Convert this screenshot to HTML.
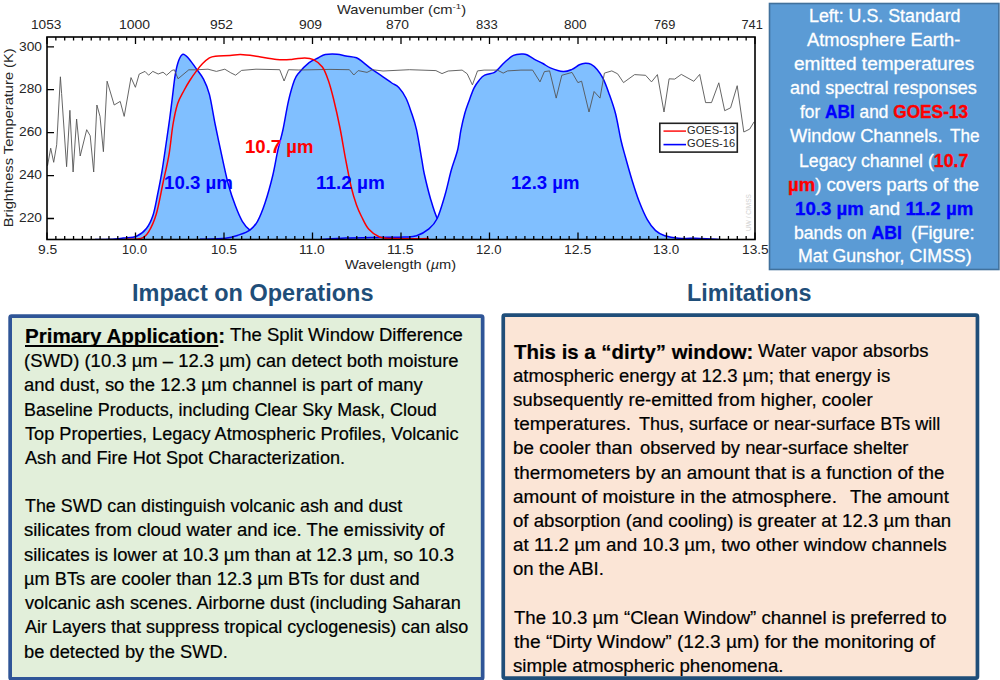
<!DOCTYPE html><html><head><meta charset="utf-8"><style>html,body{margin:0;padding:0;background:#fff;}body{width:1000px;height:680px;position:relative;overflow:hidden;font-family:"Liberation Sans", sans-serif;}.t{position:absolute;white-space:pre;transform-origin:0 0;}.k{-webkit-text-stroke:0.2px #000;}.w{-webkit-text-stroke:0.3px #fff;}.w b{-webkit-text-stroke:0.3px currentColor;}.box{position:absolute;box-sizing:border-box;}</style></head><body><svg width="1000" height="280" style="position:absolute;left:0;top:0"><defs><clipPath id="pc"><rect x="47.0" y="37.0" width="708.0" height="202.5"/></clipPath></defs><g clip-path="url(#pc)"><path d="M95.00,239.60C97.50,239.55 105.30,239.57 110.00,239.30C114.70,239.03 118.78,238.52 123.20,238.00C127.62,237.48 132.63,237.78 136.50,236.20C140.37,234.62 143.65,232.00 146.40,228.50C149.15,225.00 151.15,220.78 153.00,215.20C154.85,209.62 156.03,202.13 157.50,195.00C158.97,187.87 160.35,181.07 161.80,172.40C163.25,163.73 164.92,151.73 166.20,143.00C167.48,134.27 168.48,127.50 169.50,120.00C170.52,112.50 171.33,105.60 172.30,98.00C173.27,90.40 174.22,80.68 175.30,74.40C176.38,68.12 177.53,63.67 178.80,60.30C180.07,56.93 181.33,54.60 182.90,54.20C184.47,53.80 186.13,55.70 188.20,57.90C190.27,60.10 192.75,63.87 195.30,67.40C197.85,70.93 201.15,74.60 203.50,79.10C205.85,83.60 207.43,86.75 209.40,94.40C211.37,102.05 213.07,114.00 215.30,125.00C217.53,136.00 220.57,150.27 222.80,160.40C225.03,170.53 226.58,178.18 228.70,185.80C230.82,193.42 233.23,200.18 235.50,206.10C237.77,212.02 239.90,217.30 242.30,221.30C244.70,225.30 246.62,227.57 249.90,230.10C253.18,232.63 256.98,235.05 262.00,236.50C267.02,237.95 273.67,238.30 280.00,238.80C286.33,239.30 296.67,239.38 300.00,239.50Z" fill="#80BFFF" stroke="none"/><path d="M95.00,239.60C97.50,239.55 105.30,239.57 110.00,239.30C114.70,239.03 118.78,238.52 123.20,238.00C127.62,237.48 132.63,237.78 136.50,236.20C140.37,234.62 143.65,232.00 146.40,228.50C149.15,225.00 151.15,220.78 153.00,215.20C154.85,209.62 156.03,202.13 157.50,195.00C158.97,187.87 160.35,181.07 161.80,172.40C163.25,163.73 164.92,151.73 166.20,143.00C167.48,134.27 168.48,127.50 169.50,120.00C170.52,112.50 171.33,105.60 172.30,98.00C173.27,90.40 174.22,80.68 175.30,74.40C176.38,68.12 177.53,63.67 178.80,60.30C180.07,56.93 181.33,54.60 182.90,54.20C184.47,53.80 186.13,55.70 188.20,57.90C190.27,60.10 192.75,63.87 195.30,67.40C197.85,70.93 201.15,74.60 203.50,79.10C205.85,83.60 207.43,86.75 209.40,94.40C211.37,102.05 213.07,114.00 215.30,125.00C217.53,136.00 220.57,150.27 222.80,160.40C225.03,170.53 226.58,178.18 228.70,185.80C230.82,193.42 233.23,200.18 235.50,206.10C237.77,212.02 239.90,217.30 242.30,221.30C244.70,225.30 246.62,227.57 249.90,230.10C253.18,232.63 256.98,235.05 262.00,236.50C267.02,237.95 273.67,238.30 280.00,238.80C286.33,239.30 296.67,239.38 300.00,239.50" fill="none" stroke="#0000FF" stroke-width="1.5" stroke-linejoin="round"/><path d="M200.00,239.30C204.23,239.12 218.92,238.93 225.40,238.20C231.88,237.47 234.82,236.25 238.90,234.90C242.98,233.55 246.80,232.37 249.90,230.10C253.00,227.83 254.97,225.87 257.50,221.30C260.03,216.73 262.57,210.30 265.10,202.70C267.63,195.10 270.58,184.43 272.70,175.70C274.82,166.97 276.10,157.92 277.80,150.30C279.50,142.68 281.12,138.23 282.90,130.00C284.68,121.77 286.58,109.18 288.50,100.90C290.42,92.62 292.68,84.95 294.40,80.30C296.12,75.65 296.35,75.95 298.80,73.00C301.25,70.05 305.90,65.10 309.10,62.60C312.30,60.10 315.30,59.33 318.00,58.00C320.70,56.67 322.13,55.23 325.30,54.60C328.47,53.97 333.57,53.98 337.00,54.20C340.43,54.42 342.65,55.32 345.90,55.90C349.15,56.48 353.57,56.58 356.50,57.70C359.43,58.82 360.85,60.60 363.50,62.60C366.15,64.60 369.15,67.33 372.40,69.70C375.65,72.07 379.77,74.58 383.00,76.80C386.23,79.02 389.17,81.23 391.80,83.00C394.43,84.77 396.45,84.90 398.80,87.40C401.15,89.90 403.83,93.90 405.90,98.00C407.97,102.10 409.43,106.72 411.20,112.00C412.97,117.28 414.73,121.75 416.50,129.70C418.27,137.65 420.50,152.32 421.80,159.70C423.10,167.08 422.85,167.50 424.30,174.00C425.75,180.50 428.32,191.23 430.50,198.70C432.68,206.17 434.65,213.25 437.40,218.80C440.15,224.35 442.40,228.83 447.00,232.00C451.60,235.17 457.83,236.58 465.00,237.80C472.17,239.02 482.50,239.02 490.00,239.30C497.50,239.58 506.67,239.47 510.00,239.50Z" fill="#80BFFF" stroke="none"/><path d="M200.00,239.30C204.23,239.12 218.92,238.93 225.40,238.20C231.88,237.47 234.82,236.25 238.90,234.90C242.98,233.55 246.80,232.37 249.90,230.10C253.00,227.83 254.97,225.87 257.50,221.30C260.03,216.73 262.57,210.30 265.10,202.70C267.63,195.10 270.58,184.43 272.70,175.70C274.82,166.97 276.10,157.92 277.80,150.30C279.50,142.68 281.12,138.23 282.90,130.00C284.68,121.77 286.58,109.18 288.50,100.90C290.42,92.62 292.68,84.95 294.40,80.30C296.12,75.65 296.35,75.95 298.80,73.00C301.25,70.05 305.90,65.10 309.10,62.60C312.30,60.10 315.30,59.33 318.00,58.00C320.70,56.67 322.13,55.23 325.30,54.60C328.47,53.97 333.57,53.98 337.00,54.20C340.43,54.42 342.65,55.32 345.90,55.90C349.15,56.48 353.57,56.58 356.50,57.70C359.43,58.82 360.85,60.60 363.50,62.60C366.15,64.60 369.15,67.33 372.40,69.70C375.65,72.07 379.77,74.58 383.00,76.80C386.23,79.02 389.17,81.23 391.80,83.00C394.43,84.77 396.45,84.90 398.80,87.40C401.15,89.90 403.83,93.90 405.90,98.00C407.97,102.10 409.43,106.72 411.20,112.00C412.97,117.28 414.73,121.75 416.50,129.70C418.27,137.65 420.50,152.32 421.80,159.70C423.10,167.08 422.85,167.50 424.30,174.00C425.75,180.50 428.32,191.23 430.50,198.70C432.68,206.17 434.65,213.25 437.40,218.80C440.15,224.35 442.40,228.83 447.00,232.00C451.60,235.17 457.83,236.58 465.00,237.80C472.17,239.02 482.50,239.02 490.00,239.30C497.50,239.58 506.67,239.47 510.00,239.50" fill="none" stroke="#0000FF" stroke-width="1.5" stroke-linejoin="round"/><path d="M320.00,239.50C324.25,239.27 336.10,238.45 345.50,238.10C354.90,237.75 366.62,237.58 376.40,237.40C386.18,237.22 397.50,237.27 404.20,237.00C410.90,236.73 412.48,237.15 416.60,235.80C420.72,234.45 425.47,231.78 428.90,228.90C432.33,226.02 434.52,224.15 437.20,218.50C439.88,212.85 442.65,203.08 445.00,195.00C447.35,186.92 449.20,177.50 451.30,170.00C453.40,162.50 456.00,156.63 457.60,150.00C459.20,143.37 459.68,136.37 460.90,130.20C462.12,124.03 463.47,118.08 464.90,113.00C466.33,107.92 467.97,103.90 469.50,99.70C471.03,95.50 472.45,91.10 474.10,87.80C475.75,84.50 477.63,82.00 479.40,79.90C481.17,77.80 482.27,76.42 484.70,75.20C487.13,73.98 491.78,73.58 494.00,72.60C496.22,71.62 496.17,71.07 498.00,69.30C499.83,67.53 502.42,64.32 505.00,62.00C507.58,59.68 510.60,56.73 513.50,55.40C516.40,54.07 520.18,54.12 522.40,54.00C524.62,53.88 524.85,53.85 526.80,54.70C528.75,55.55 531.42,57.63 534.10,59.10C536.78,60.57 540.20,62.03 542.90,63.50C545.60,64.97 546.92,66.55 550.30,67.90C553.68,69.25 559.58,71.35 563.20,71.60C566.82,71.85 569.30,70.55 572.00,69.40C574.70,68.25 577.18,65.73 579.40,64.70C581.62,63.67 583.33,63.27 585.30,63.20C587.27,63.13 589.23,63.27 591.20,64.30C593.17,65.33 595.15,67.08 597.10,69.40C599.05,71.72 600.95,74.28 602.90,78.20C604.85,82.12 606.70,87.02 608.80,92.90C610.90,98.78 613.48,105.65 615.50,113.50C617.52,121.35 619.25,132.75 620.90,140.00C622.55,147.25 623.52,150.22 625.40,157.00C627.28,163.78 629.93,173.37 632.20,180.70C634.47,188.03 636.48,194.52 639.00,201.00C641.52,207.48 644.53,214.67 647.30,219.60C650.07,224.53 652.68,227.92 655.60,230.60C658.52,233.28 661.00,234.43 664.80,235.70C668.60,236.97 672.53,237.75 678.40,238.20C684.27,238.65 693.07,238.18 700.00,238.40C706.93,238.62 716.67,239.32 720.00,239.50Z" fill="#80BFFF" stroke="none"/><path d="M320.00,239.50C324.25,239.27 336.10,238.45 345.50,238.10C354.90,237.75 366.62,237.58 376.40,237.40C386.18,237.22 397.50,237.27 404.20,237.00C410.90,236.73 412.48,237.15 416.60,235.80C420.72,234.45 425.47,231.78 428.90,228.90C432.33,226.02 434.52,224.15 437.20,218.50C439.88,212.85 442.65,203.08 445.00,195.00C447.35,186.92 449.20,177.50 451.30,170.00C453.40,162.50 456.00,156.63 457.60,150.00C459.20,143.37 459.68,136.37 460.90,130.20C462.12,124.03 463.47,118.08 464.90,113.00C466.33,107.92 467.97,103.90 469.50,99.70C471.03,95.50 472.45,91.10 474.10,87.80C475.75,84.50 477.63,82.00 479.40,79.90C481.17,77.80 482.27,76.42 484.70,75.20C487.13,73.98 491.78,73.58 494.00,72.60C496.22,71.62 496.17,71.07 498.00,69.30C499.83,67.53 502.42,64.32 505.00,62.00C507.58,59.68 510.60,56.73 513.50,55.40C516.40,54.07 520.18,54.12 522.40,54.00C524.62,53.88 524.85,53.85 526.80,54.70C528.75,55.55 531.42,57.63 534.10,59.10C536.78,60.57 540.20,62.03 542.90,63.50C545.60,64.97 546.92,66.55 550.30,67.90C553.68,69.25 559.58,71.35 563.20,71.60C566.82,71.85 569.30,70.55 572.00,69.40C574.70,68.25 577.18,65.73 579.40,64.70C581.62,63.67 583.33,63.27 585.30,63.20C587.27,63.13 589.23,63.27 591.20,64.30C593.17,65.33 595.15,67.08 597.10,69.40C599.05,71.72 600.95,74.28 602.90,78.20C604.85,82.12 606.70,87.02 608.80,92.90C610.90,98.78 613.48,105.65 615.50,113.50C617.52,121.35 619.25,132.75 620.90,140.00C622.55,147.25 623.52,150.22 625.40,157.00C627.28,163.78 629.93,173.37 632.20,180.70C634.47,188.03 636.48,194.52 639.00,201.00C641.52,207.48 644.53,214.67 647.30,219.60C650.07,224.53 652.68,227.92 655.60,230.60C658.52,233.28 661.00,234.43 664.80,235.70C668.60,236.97 672.53,237.75 678.40,238.20C684.27,238.65 693.07,238.18 700.00,238.40C706.93,238.62 716.67,239.32 720.00,239.50" fill="none" stroke="#0000FF" stroke-width="1.5" stroke-linejoin="round"/><polyline points="47.5,165.8 50.7,148.2 53.7,162.3 56.7,144.7 60.4,76.8 61.6,93.5 66.6,166.7 69.9,110.3 73.1,172.0 76.6,119.0 80.2,156.0 86.7,129.7 90.2,135.8 93.7,172.0 96.9,105.0 100.0,116.4 103.4,151.7 107.1,81.2 114.2,105.0 120.2,101.4 124.2,116.4 131.0,77.6 135.4,87.3 139.2,74.1 145.0,71.4 148.6,75.2 152.8,71.4 158.2,74.0 163.0,72.2 166.6,75.2 172.0,70.4 174.4,69.8 178.0,78.8 188.8,69.8 196.0,69.8 208.0,69.2 216.4,71.4 224.8,69.2 230.8,72.8 235.6,75.2 241.6,70.4 256.0,69.2 279.7,69.7 284.1,81.0 288.5,69.7 298.8,70.0 330.0,69.4 349.4,69.7 353.8,75.0 358.2,70.6 367.0,72.4 372.4,69.7 383.0,71.0 409.4,69.7 435.9,70.6 442.0,73.6 448.2,71.0 462.1,70.1 467.2,73.8 472.4,84.9 477.5,70.9 484.1,70.1 497.4,70.1 503.2,73.1 507.6,70.9 520.9,70.1 532.6,70.1 540.0,81.9 544.4,71.6 549.6,70.9 556.2,98.1 561.8,75.3 572.0,72.4 577.9,82.6 581.6,81.2 589.0,112.0 594.1,91.5 600.0,98.1 604.4,73.1 611.8,70.9 617.6,73.8 623.5,82.6 634.6,74.6 645.6,75.3 651.5,81.9 657.4,74.6 664.0,112.0 669.1,78.8 674.7,79.1 681.3,74.4 693.8,81.3 699.7,74.4 705.6,102.6 711.5,102.6 718.8,82.8 724.7,110.7 730.6,107.8 737.2,85.7 743.8,132.0 749.7,129.1 754.1,121.8" fill="none" stroke="#555" stroke-width="0.9" stroke-linejoin="miter"/><path d="M125.00,239.30C127.65,239.15 136.97,239.65 140.90,238.40C144.83,237.15 146.03,235.87 148.60,231.80C151.17,227.73 153.90,222.13 156.30,214.00C158.70,205.87 160.88,192.90 163.00,183.00C165.12,173.10 167.35,164.27 169.00,154.60C170.65,144.93 171.47,133.47 172.90,125.00C174.33,116.53 175.75,109.55 177.60,103.80C179.45,98.05 181.97,94.38 184.00,90.50C186.03,86.62 187.72,83.77 189.80,80.50C191.88,77.23 194.40,73.68 196.50,70.90C198.60,68.12 200.25,65.97 202.40,63.80C204.55,61.63 207.25,59.17 209.40,57.90C211.55,56.63 211.87,56.58 215.30,56.20C218.73,55.82 225.82,55.87 230.00,55.60C234.18,55.33 236.28,54.53 240.40,54.60C244.52,54.67 248.63,55.20 254.70,56.00C260.77,56.80 270.67,58.83 276.80,59.40C282.93,59.97 286.85,59.65 291.50,59.40C296.15,59.15 301.03,57.85 304.70,57.90C308.37,57.95 310.55,58.18 313.50,59.70C316.45,61.22 319.95,63.62 322.40,67.00C324.85,70.38 326.35,74.70 328.20,80.00C330.05,85.30 331.53,90.80 333.50,98.80C335.47,106.80 338.03,118.20 340.00,128.00C341.97,137.80 343.43,147.77 345.30,157.60C347.17,167.43 349.33,179.10 351.20,187.00C353.07,194.90 354.78,200.08 356.50,205.00C358.22,209.92 359.48,212.50 361.50,216.50C363.52,220.50 365.60,225.58 368.60,229.00C371.60,232.42 375.63,235.40 379.50,237.00C383.37,238.60 383.55,238.33 391.80,238.60C400.05,238.87 422.80,238.60 429.00,238.60" fill="none" stroke="#FF0000" stroke-width="1.5" stroke-linejoin="round"/></g><path d="M47.00,239.50v-7M47.00,37.00v7M55.85,239.50v-3.6M55.85,37.00v3.6M64.70,239.50v-3.6M64.70,37.00v3.6M73.55,239.50v-3.6M73.55,37.00v3.6M82.40,239.50v-3.6M82.40,37.00v3.6M91.25,239.50v-3.6M91.25,37.00v3.6M100.10,239.50v-3.6M100.10,37.00v3.6M108.95,239.50v-3.6M108.95,37.00v3.6M117.80,239.50v-3.6M117.80,37.00v3.6M126.65,239.50v-3.6M126.65,37.00v3.6M135.50,239.50v-7M135.50,37.00v7M144.35,239.50v-3.6M144.35,37.00v3.6M153.20,239.50v-3.6M153.20,37.00v3.6M162.05,239.50v-3.6M162.05,37.00v3.6M170.90,239.50v-3.6M170.90,37.00v3.6M179.75,239.50v-3.6M179.75,37.00v3.6M188.60,239.50v-3.6M188.60,37.00v3.6M197.45,239.50v-3.6M197.45,37.00v3.6M206.30,239.50v-3.6M206.30,37.00v3.6M215.15,239.50v-3.6M215.15,37.00v3.6M224.00,239.50v-7M224.00,37.00v7M232.85,239.50v-3.6M232.85,37.00v3.6M241.70,239.50v-3.6M241.70,37.00v3.6M250.55,239.50v-3.6M250.55,37.00v3.6M259.40,239.50v-3.6M259.40,37.00v3.6M268.25,239.50v-3.6M268.25,37.00v3.6M277.10,239.50v-3.6M277.10,37.00v3.6M285.95,239.50v-3.6M285.95,37.00v3.6M294.80,239.50v-3.6M294.80,37.00v3.6M303.65,239.50v-3.6M303.65,37.00v3.6M312.50,239.50v-7M312.50,37.00v7M321.35,239.50v-3.6M321.35,37.00v3.6M330.20,239.50v-3.6M330.20,37.00v3.6M339.05,239.50v-3.6M339.05,37.00v3.6M347.90,239.50v-3.6M347.90,37.00v3.6M356.75,239.50v-3.6M356.75,37.00v3.6M365.60,239.50v-3.6M365.60,37.00v3.6M374.45,239.50v-3.6M374.45,37.00v3.6M383.30,239.50v-3.6M383.30,37.00v3.6M392.15,239.50v-3.6M392.15,37.00v3.6M401.00,239.50v-7M401.00,37.00v7M409.85,239.50v-3.6M409.85,37.00v3.6M418.70,239.50v-3.6M418.70,37.00v3.6M427.55,239.50v-3.6M427.55,37.00v3.6M436.40,239.50v-3.6M436.40,37.00v3.6M445.25,239.50v-3.6M445.25,37.00v3.6M454.10,239.50v-3.6M454.10,37.00v3.6M462.95,239.50v-3.6M462.95,37.00v3.6M471.80,239.50v-3.6M471.80,37.00v3.6M480.65,239.50v-3.6M480.65,37.00v3.6M489.50,239.50v-7M489.50,37.00v7M498.35,239.50v-3.6M498.35,37.00v3.6M507.20,239.50v-3.6M507.20,37.00v3.6M516.05,239.50v-3.6M516.05,37.00v3.6M524.90,239.50v-3.6M524.90,37.00v3.6M533.75,239.50v-3.6M533.75,37.00v3.6M542.60,239.50v-3.6M542.60,37.00v3.6M551.45,239.50v-3.6M551.45,37.00v3.6M560.30,239.50v-3.6M560.30,37.00v3.6M569.15,239.50v-3.6M569.15,37.00v3.6M578.00,239.50v-7M578.00,37.00v7M586.85,239.50v-3.6M586.85,37.00v3.6M595.70,239.50v-3.6M595.70,37.00v3.6M604.55,239.50v-3.6M604.55,37.00v3.6M613.40,239.50v-3.6M613.40,37.00v3.6M622.25,239.50v-3.6M622.25,37.00v3.6M631.10,239.50v-3.6M631.10,37.00v3.6M639.95,239.50v-3.6M639.95,37.00v3.6M648.80,239.50v-3.6M648.80,37.00v3.6M657.65,239.50v-3.6M657.65,37.00v3.6M666.50,239.50v-7M666.50,37.00v7M675.35,239.50v-3.6M675.35,37.00v3.6M684.20,239.50v-3.6M684.20,37.00v3.6M693.05,239.50v-3.6M693.05,37.00v3.6M701.90,239.50v-3.6M701.90,37.00v3.6M710.75,239.50v-3.6M710.75,37.00v3.6M719.60,239.50v-3.6M719.60,37.00v3.6M728.45,239.50v-3.6M728.45,37.00v3.6M737.30,239.50v-3.6M737.30,37.00v3.6M746.15,239.50v-3.6M746.15,37.00v3.6M755.00,239.50v-7M755.00,37.00v7M47.0,46.80h7M47.0,89.72h7M47.0,132.65h7M47.0,175.57h7M47.0,218.50h7" stroke="#000" stroke-width="1.3" fill="none"/><rect x="47.0" y="37.0" width="708.0" height="202.5" fill="none" stroke="#000" stroke-width="1.6"/><rect x="659.8" y="123.3" width="77.5" height="28.8" fill="#fff" stroke="#222" stroke-width="1.6"/><path d="M663.5,131.1H686" stroke="#FF2020" stroke-width="1.6"/><path d="M663.5,144.6H686" stroke="#0000FF" stroke-width="1.6"/><text x="751" y="231" transform="rotate(-90 751 231)" font-family="Liberation Sans" font-size="6.5" fill="#d0d0d0">UW / CIMSS</text></svg><svg width="1000" height="680" style="position:absolute;left:0;top:0"><rect x="769.5" y="3.5" width="229.4" height="266" fill="#5B9BD5" stroke="#41719C" stroke-width="1.6"/><rect x="10.15" y="316.05" width="472.5" height="362.9" rx="1.5" fill="#E2EFDA" stroke="#2F5597" stroke-width="3.7"/><rect x="503.25" y="315.15" width="474.2" height="362.9" rx="1.5" fill="#FBE5D6" stroke="#1F4E79" stroke-width="3.7"/></svg><div class="t w" style="left:808.58px;top:8.09px;line-height:17.5px;font-size:17.5px;font-weight:400;color:#fff;transform:scaleX(1.0177)">Left: U.S. Standard</div><div class="t w" style="left:807.40px;top:32.29px;line-height:17.5px;font-size:17.5px;font-weight:400;color:#fff;transform:scaleX(1.0432)">Atmosphere Earth-</div><div class="t w" style="left:793.71px;top:55.99px;line-height:17.5px;font-size:17.5px;font-weight:400;color:#fff;transform:scaleX(1.0896)">emitted temperatures</div><div class="t w" style="left:790.17px;top:80.19px;line-height:17.5px;font-size:17.5px;font-weight:400;color:#fff;transform:scaleX(1.0322)">and spectral responses</div><div class="t w" style="left:799.90px;top:104.29px;line-height:17.5px;font-size:17.5px;font-weight:400;color:#fff;transform:scaleX(0.9876)">for <b style="color:#0000FF">ABI</b> and <b style="color:#FF0000">GOES-13</b></div><div class="t w" style="left:789.50px;top:128.49px;line-height:17.5px;font-size:17.5px;font-weight:400;color:#fff;transform:scaleX(1.0451)">Window Channels.</div><div class="t w" style="left:950.40px;top:128.49px;line-height:17.5px;font-size:17.5px;font-weight:400;color:#fff;transform:scaleX(0.9800)">The</div><div class="t w" style="left:798.89px;top:152.69px;line-height:17.5px;font-size:17.5px;font-weight:400;color:#fff;transform:scaleX(1.0114)">Legacy channel (<b style="color:#FF0000">10.7</b></div><div class="t w" style="left:788.44px;top:176.69px;line-height:17.5px;font-size:17.5px;font-weight:400;color:#fff;transform:scaleX(1.0603)"><b style="color:#FF0000">&micro;m</b>) covers parts of the</div><div class="t w" style="left:795.33px;top:200.89px;line-height:17.5px;font-size:17.5px;font-weight:400;color:#fff;transform:scaleX(1.0667)"><b style="color:#0000FF">10.3 &micro;m</b> and <b style="color:#0000FF">11.2 &micro;m</b></div><div class="t w" style="left:794.29px;top:224.99px;line-height:17.5px;font-size:17.5px;font-weight:400;color:#fff;transform:scaleX(1.0076)">bands on <b style="color:#0000FF">ABI</b></div><div class="t w" style="left:911.24px;top:224.99px;line-height:17.5px;font-size:17.5px;font-weight:400;color:#fff;transform:scaleX(1.0552)">(Figure:</div><div class="t w" style="left:797.69px;top:247.99px;line-height:17.5px;font-size:17.5px;font-weight:400;color:#fff;transform:scaleX(1.0142)">Mat Gunshor, CIMSS)</div><div class="t" style="left:131.56px;top:281.01px;line-height:24.2px;font-size:24.2px;font-weight:700;color:#1F4E79;transform:scaleX(0.9711)">Impact on Operations</div><div class="t" style="left:687.27px;top:281.01px;line-height:24.2px;font-size:24.2px;font-weight:700;color:#1F4E79;transform:scaleX(0.9651)">Limitations</div><div class="t k" style="left:24.90px;top:327.19px;line-height:17.5px;font-size:17.5px;font-weight:400;color:#000;transform:scaleX(0.9783)"><b style="font-size:21px"><u style="text-decoration-thickness:1.6px;text-underline-offset:2px;text-decoration-skip-ink:none">Primary Application</u>:</b></div><div class="t k" style="left:230.00px;top:327.19px;line-height:17.5px;font-size:17.5px;font-weight:400;color:#000;transform:scaleX(1.0564)">The Split Window Difference</div><div class="t k" style="left:23.85px;top:353.29px;line-height:17.5px;font-size:17.5px;font-weight:400;color:#000;transform:scaleX(1.0545)">(SWD) (10.3 &micro;m &ndash; 12.3 &micro;m) can detect both moisture</div><div class="t k" style="left:23.85px;top:377.49px;line-height:17.5px;font-size:17.5px;font-weight:400;color:#000;transform:scaleX(1.0526)">and dust, so the 12.3 &micro;m channel is part of many</div><div class="t k" style="left:23.87px;top:401.69px;line-height:17.5px;font-size:17.5px;font-weight:400;color:#000;transform:scaleX(1.0252)">Baseline Products, including Clear Sky Mask, Cloud</div><div class="t k" style="left:24.90px;top:425.89px;line-height:17.5px;font-size:17.5px;font-weight:400;color:#000;transform:scaleX(1.0368)">Top Properties, Legacy Atmospheric Profiles, Volcanic</div><div class="t k" style="left:24.90px;top:450.09px;line-height:17.5px;font-size:17.5px;font-weight:400;color:#000;transform:scaleX(1.0347)">Ash and Fire Hot Spot Characterization.</div><div class="t k" style="left:24.60px;top:498.29px;line-height:17.5px;font-size:17.5px;font-weight:400;color:#000;transform:scaleX(1.0205)">The SWD can distinguish volcanic ash and dust</div><div class="t k" style="left:23.54px;top:522.49px;line-height:17.5px;font-size:17.5px;font-weight:400;color:#000;transform:scaleX(1.0577)">silicates from cloud water and ice. The emissivity of</div><div class="t k" style="left:23.55px;top:546.79px;line-height:17.5px;font-size:17.5px;font-weight:400;color:#000;transform:scaleX(1.0533)">silicates is lower at 10.3 &micro;m than at 12.3 &micro;m, so 10.3</div><div class="t k" style="left:23.56px;top:570.99px;line-height:17.5px;font-size:17.5px;font-weight:400;color:#000;transform:scaleX(1.0410)">&micro;m BTs are cooler than 12.3 &micro;m BTs for dust and</div><div class="t k" style="left:24.60px;top:595.19px;line-height:17.5px;font-size:17.5px;font-weight:400;color:#000;transform:scaleX(1.0370)">volcanic ash scenes. Airborne dust (including Saharan</div><div class="t k" style="left:24.60px;top:619.49px;line-height:17.5px;font-size:17.5px;font-weight:400;color:#000;transform:scaleX(1.0288)">Air Layers that suppress tropical cyclogenesis) can also</div><div class="t k" style="left:23.55px;top:643.69px;line-height:17.5px;font-size:17.5px;font-weight:400;color:#000;transform:scaleX(1.0474)">be detected by the SWD.</div><div class="t k" style="left:514.30px;top:342.59px;line-height:17.5px;font-size:17.5px;font-weight:400;color:#000;transform:scaleX(0.9721)"><b style="font-size:21px">This is a &ldquo;dirty&rdquo; window:</b></div><div class="t k" style="left:757.50px;top:342.59px;line-height:17.5px;font-size:17.5px;font-weight:400;color:#000;transform:scaleX(1.0534)">Water vapor absorbs</div><div class="t k" style="left:513.24px;top:367.89px;line-height:17.5px;font-size:17.5px;font-weight:400;color:#000;transform:scaleX(1.0583)">atmospheric energy at 12.3 &micro;m; that energy is</div><div class="t k" style="left:513.23px;top:392.09px;line-height:17.5px;font-size:17.5px;font-weight:400;color:#000;transform:scaleX(1.0688)">subsequently re-emitted from higher, cooler</div><div class="t k" style="left:514.30px;top:416.29px;line-height:17.5px;font-size:17.5px;font-weight:400;color:#000;transform:scaleX(1.0830)">temperatures.</div><div class="t k" style="left:639.00px;top:416.29px;line-height:17.5px;font-size:17.5px;font-weight:400;color:#000;transform:scaleX(1.0291)">Thus, surface or near-surface BTs will</div><div class="t k" style="left:513.22px;top:440.39px;line-height:17.5px;font-size:17.5px;font-weight:400;color:#000;transform:scaleX(1.0761)">be cooler than</div><div class="t k" style="left:640.45px;top:440.39px;line-height:17.5px;font-size:17.5px;font-weight:400;color:#000;transform:scaleX(1.0494)">observed by near-surface shelter</div><div class="t k" style="left:514.30px;top:464.59px;line-height:17.5px;font-size:17.5px;font-weight:400;color:#000;transform:scaleX(1.0769)">thermometers by an amount that is a function of the</div><div class="t k" style="left:513.22px;top:488.79px;line-height:17.5px;font-size:17.5px;font-weight:400;color:#000;transform:scaleX(1.0811)">amount of moisture in the atmosphere.</div><div class="t k" style="left:850.40px;top:488.79px;line-height:17.5px;font-size:17.5px;font-weight:400;color:#000;transform:scaleX(1.0581)">The amount</div><div class="t k" style="left:513.24px;top:512.99px;line-height:17.5px;font-size:17.5px;font-weight:400;color:#000;transform:scaleX(1.0637)">of absorption (and cooling) is greater at 12.3 &micro;m than</div><div class="t k" style="left:513.23px;top:537.09px;line-height:17.5px;font-size:17.5px;font-weight:400;color:#000;transform:scaleX(1.0734)">at 11.2 &micro;m and 10.3 &micro;m, two other window channels</div><div class="t k" style="left:513.24px;top:561.29px;line-height:17.5px;font-size:17.5px;font-weight:400;color:#000;transform:scaleX(1.0614)">on the ABI.</div><div class="t k" style="left:514.30px;top:609.69px;line-height:17.5px;font-size:17.5px;font-weight:400;color:#000;transform:scaleX(1.0628)">The 10.3 &micro;m &ldquo;Clean Window&rdquo; channel is preferred to</div><div class="t k" style="left:514.30px;top:633.79px;line-height:17.5px;font-size:17.5px;font-weight:400;color:#000;transform:scaleX(1.0953)">the &ldquo;Dirty Window&rdquo; (12.3 &micro;m) for the monitoring of</div><div class="t k" style="left:513.23px;top:657.99px;line-height:17.5px;font-size:17.5px;font-weight:400;color:#000;transform:scaleX(1.0696)">simple atmospheric phenomena.</div><div class="t" style="left:163.96px;top:173.56px;line-height:18px;font-size:18px;font-weight:700;color:#0000FF;transform:scaleX(1.0369)">10.3 &micro;m</div><div class="t" style="left:245.47px;top:137.56px;line-height:18px;font-size:18px;font-weight:700;color:#FF0000;transform:scaleX(1.0323)">10.7 &micro;m</div><div class="t" style="left:316.45px;top:173.96px;line-height:18px;font-size:18px;font-weight:700;color:#0000FF;transform:scaleX(1.0531)">11.2 &micro;m</div><div class="t" style="left:510.97px;top:174.26px;line-height:18px;font-size:18px;font-weight:700;color:#0000FF;transform:scaleX(1.0308)">12.3 &micro;m</div><div class="t" style="left:336.80px;top:4.07px;line-height:12.2px;font-size:12.2px;font-weight:400;color:#262626;transform:scaleX(1.2075)">Wavenumber (cm<span style='font-size:8px;position:relative;top:-5px'>-1</span>)</div><div class="t" style="left:344.80px;top:259.07px;line-height:12.2px;font-size:12.2px;font-weight:400;color:#262626;transform:scaleX(1.2000)">Wavelength (<i>&micro;</i>m)</div><div class="t" style="left:687.06px;top:125.01px;line-height:11.8px;font-size:11.8px;font-weight:400;color:#262626;transform:scaleX(0.9400)">GOES-13</div><div class="t" style="left:687.06px;top:138.41px;line-height:11.8px;font-size:11.8px;font-weight:400;color:#262626;transform:scaleX(0.9400)">GOES-16</div><div class="t" style="left:30.93px;top:19.06px;line-height:12.8px;font-size:12.8px;font-weight:400;color:#262626;transform:scaleX(1.0667)">1053</div><div class="t" style="left:38.02px;top:243.96px;line-height:12.8px;font-size:12.8px;font-weight:400;color:#262626;transform:scaleX(1.0812)">9.5</div><div class="t" style="left:118.51px;top:19.06px;line-height:12.8px;font-size:12.8px;font-weight:400;color:#262626;transform:scaleX(1.0926)">1000</div><div class="t" style="left:122.10px;top:243.96px;line-height:12.8px;font-size:12.8px;font-weight:400;color:#262626;transform:scaleX(1.0000)">10.0</div><div class="t" style="left:209.72px;top:19.06px;line-height:12.8px;font-size:12.8px;font-weight:400;color:#262626;transform:scaleX(1.0800)">952</div><div class="t" style="left:210.86px;top:243.96px;line-height:12.8px;font-size:12.8px;font-weight:400;color:#262626;transform:scaleX(1.0435)">10.5</div><div class="t" style="left:298.52px;top:19.06px;line-height:12.8px;font-size:12.8px;font-weight:400;color:#262626;transform:scaleX(1.0800)">909</div><div class="t" style="left:299.33px;top:243.96px;line-height:12.8px;font-size:12.8px;font-weight:400;color:#262626;transform:scaleX(1.0739)">11.0</div><div class="t" style="left:386.12px;top:19.06px;line-height:12.8px;font-size:12.8px;font-weight:400;color:#262626;transform:scaleX(1.0800)">870</div><div class="t" style="left:386.89px;top:243.96px;line-height:12.8px;font-size:12.8px;font-weight:400;color:#262626;transform:scaleX(1.1136)">11.5</div><div class="t" style="left:476.18px;top:19.06px;line-height:12.8px;font-size:12.8px;font-weight:400;color:#262626;transform:scaleX(1.0200)">833</div><div class="t" style="left:475.78px;top:243.96px;line-height:12.8px;font-size:12.8px;font-weight:400;color:#262626;transform:scaleX(1.0208)">12.0</div><div class="t" style="left:563.94px;top:19.06px;line-height:12.8px;font-size:12.8px;font-weight:400;color:#262626;transform:scaleX(1.0625)">800</div><div class="t" style="left:564.10px;top:243.96px;line-height:12.8px;font-size:12.8px;font-weight:400;color:#262626;transform:scaleX(1.0957)">12.5</div><div class="t" style="left:654.00px;top:19.06px;line-height:12.8px;font-size:12.8px;font-weight:400;color:#262626;transform:scaleX(1.0000)">769</div><div class="t" style="left:652.95px;top:243.96px;line-height:12.8px;font-size:12.8px;font-weight:400;color:#262626;transform:scaleX(1.0500)">13.0</div><div class="t" style="left:741.50px;top:19.06px;line-height:12.8px;font-size:12.8px;font-weight:400;color:#262626;transform:scaleX(1.0000)">741</div><div class="t" style="left:741.73px;top:243.96px;line-height:12.8px;font-size:12.8px;font-weight:400;color:#262626;transform:scaleX(1.0739)">13.5</div><div class="t" style="left:19.23px;top:40.56px;line-height:12.8px;font-size:12.8px;font-weight:400;color:#262626;transform:scaleX(1.0750)">300</div><div class="t" style="left:19.23px;top:83.49px;line-height:12.8px;font-size:12.8px;font-weight:400;color:#262626;transform:scaleX(1.0750)">280</div><div class="t" style="left:19.23px;top:126.41px;line-height:12.8px;font-size:12.8px;font-weight:400;color:#262626;transform:scaleX(1.0750)">260</div><div class="t" style="left:19.23px;top:169.34px;line-height:12.8px;font-size:12.8px;font-weight:400;color:#262626;transform:scaleX(1.0750)">240</div><div class="t" style="left:19.23px;top:212.26px;line-height:12.8px;font-size:12.8px;font-weight:400;color:#262626;transform:scaleX(1.0750)">220</div><div class="t" style="left:0;top:0;line-height:12.5px;font-size:12.5px;font-weight:400;color:#262626;transform:translate(3.42px,227.17px) rotate(-90deg) scaleX(1.1715)">Brightness Temperature (K)</div></body></html>
